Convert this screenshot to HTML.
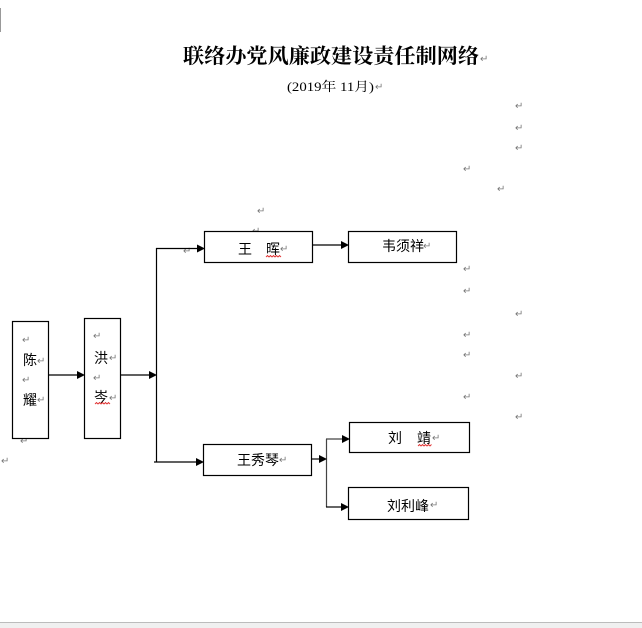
<!DOCTYPE html>
<html><head><meta charset="utf-8">
<style>
html,body{margin:0;padding:0;background:#fff;}
body{width:642px;height:628px;overflow:hidden;position:relative;}
svg{position:absolute;left:0;top:0;}
.r{font-family:"DejaVu Sans",sans-serif;font-size:10px;fill:#7a7a7a;}
</style></head>
<body>
<svg width="642" height="628" viewBox="0 0 642 628" xmlns="http://www.w3.org/2000/svg">
<rect x="0" y="0" width="642" height="628" fill="#fff"/>
<line x1="0.5" y1="8" x2="0.5" y2="32" stroke="#999" stroke-width="1"/>
<!-- Title -->
<text x="183" y="63" font-family="'Noto Serif CJK SC','Liberation Serif',serif" font-weight="bold" font-size="20.5px" textLength="296" lengthAdjust="spacingAndGlyphs">联络办党风廉政建设责任制网络</text>
<text x="480" y="62" class="r">↵</text>
<text x="287" y="91" font-family="'Liberation Serif','Noto Serif CJK SC',serif" font-size="13px" textLength="87" lengthAdjust="spacingAndGlyphs">(2019年 11月)</text>
<text x="375" y="90" class="r">↵</text>

<!-- right return marks -->
<g class="r">
<text x="515" y="109">↵</text><text x="515" y="131">↵</text><text x="515" y="151">↵</text>
<text x="463" y="172">↵</text><text x="497" y="192">↵</text>
<text x="257" y="214">↵</text><text x="252" y="234">↵</text>
<text x="463" y="272">↵</text><text x="463" y="294">↵</text><text x="515" y="317">↵</text>
<text x="463" y="338">↵</text><text x="463" y="358">↵</text><text x="515" y="379">↵</text>
<text x="463" y="400">↵</text><text x="515" y="420">↵</text>
<text x="183" y="254">↵</text>
<text x="20" y="444">↵</text><text x="1" y="464">↵</text>
</g>

<g fill="#fff" stroke="#000" stroke-width="1.2">
<rect x="12.5" y="321.5" width="36" height="117"/>
<rect x="84.5" y="318.5" width="36" height="120"/>
<rect x="204.5" y="231.5" width="108" height="31"/>
<rect x="348.5" y="231.5" width="108" height="31"/>
<rect x="203.5" y="444.5" width="108" height="31"/>
<rect x="349.5" y="422.5" width="120" height="30"/>
<rect x="348.5" y="487.5" width="120" height="32"/>
</g>

<!-- connectors -->
<g stroke="#000" stroke-width="1.2" fill="none">
<line x1="48" y1="375" x2="78" y2="375"/>
<line x1="120" y1="375" x2="150" y2="375"/>
<line x1="156.5" y1="248" x2="156.5" y2="462"/>
<line x1="156" y1="248.5" x2="198" y2="248.5"/>
<line x1="154" y1="462" x2="197" y2="462"/>
<line x1="312" y1="245" x2="342" y2="245"/>
<line x1="311" y1="459" x2="320" y2="459"/>
<line x1="326.5" y1="439" x2="326.5" y2="507" stroke="#444"/>
<line x1="326" y1="439" x2="343" y2="439" stroke="#444"/>
<line x1="326" y1="507" x2="342" y2="507"/>
</g>
<g fill="#000">
<polygon points="77,371 85,375 77,379"/>
<polygon points="149,371 157,375 149,379"/>
<polygon points="197,244.5 205,248.5 197,252.5"/>
<polygon points="196,458 204,462 196,466"/>
<polygon points="341,241 349,245 341,249"/>
<polygon points="319,455 327,459 319,463"/>
<polygon points="342,435 350,439 342,443"/>
<polygon points="341,503 349,507 341,511"/>
</g>

<!-- box texts -->
<g font-family="'Noto Sans CJK SC','WenQuanYi Zen Hei',sans-serif" font-size="14px" fill="#000">
<text x="23" y="365">陈</text>
<text x="23" y="405">耀</text>
<text x="94" y="363">洪</text>
<text x="94" y="402">岑</text>
<text x="238" y="254">王</text>
<text x="266" y="254">晖</text>
<text x="382" y="251">韦须祥</text>
<text x="237" y="465">王秀琴</text>
<text x="388" y="443">刘</text>
<text x="417" y="443">靖</text>
<text x="387" y="511">刘利峰</text>
</g>
<g class="r">
<text x="22" y="343">↵</text><text x="37" y="364">↵</text><text x="22" y="383">↵</text><text x="37" y="403">↵</text>
<text x="93" y="339">↵</text><text x="109" y="361">↵</text><text x="93" y="381">↵</text><text x="109" y="401">↵</text>
<text x="280" y="252">↵</text><text x="423" y="249">↵</text>
<text x="279" y="463">↵</text><text x="432" y="441">↵</text><text x="430" y="508">↵</text>
</g>
<!-- red wavy underlines -->
<g stroke="#e03030" stroke-width="0.9" fill="none">
<polyline points="266,257 267.5,255.5 269,257 270.5,255.5 272,257 273.5,255.5 275,257 276.5,255.5 278,257 279.5,255.5 281,257"/>
<polyline points="95,404 96.5,402.5 98,404 99.5,402.5 101,404 102.5,402.5 104,404 105.5,402.5 107,404 108.5,402.5 110,404"/>
<polyline points="418,446 419.5,444.5 421,446 422.5,444.5 424,446 425.5,444.5 427,446 428.5,444.5 430,446 431.5,444.5"/>
</g>

<!-- bottom bar -->
<rect x="0" y="622" width="642" height="1" fill="#bcbcbc"/>
<rect x="0" y="623" width="642" height="5" fill="#f0f0f0"/>
</svg>
</body></html>
